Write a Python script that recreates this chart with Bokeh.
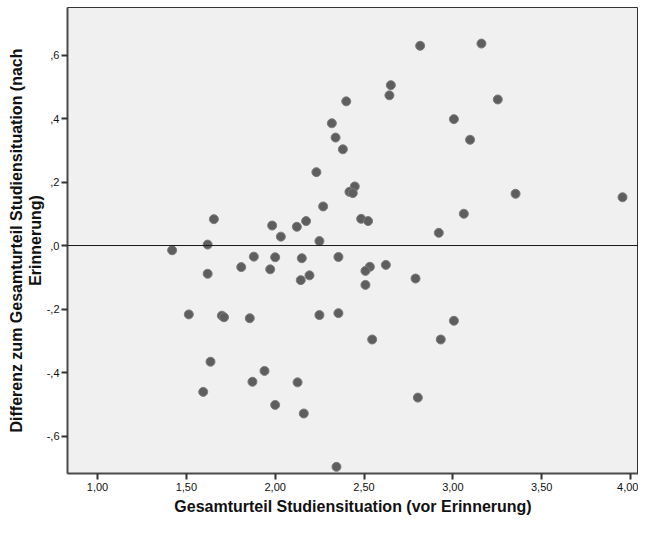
from bokeh.plotting import figure
from bokeh.models import Range1d, FixedTicker, CustomJSTickFormatter, Span, Title, ColumnDataSource
from bokeh.embed import file_html
from bokeh.resources import INLINE

# Gesamturteil Studiensituation (vor Erinnerung)
vor = [1.42, 1.62, 1.655, 1.983, 2.032, 2.122, 2.174, 2.27, 2.232, 2.249,
       1.88, 2.0, 2.15, 1.809, 1.972, 1.62, 2.193, 2.144, 1.514, 1.70,
       1.712, 1.857, 2.249, 1.636, 1.94, 1.872, 2.126, 1.595, 2.0, 2.161,
       2.816, 3.161, 2.651, 2.643, 3.253, 2.40, 2.319, 3.006, 2.34, 3.097,
       2.381, 2.448, 2.418, 2.437, 3.353, 3.955, 2.484, 2.523, 3.062, 2.921,
       2.356, 2.533, 2.508, 2.623, 2.79, 2.508, 2.356, 3.006, 2.546, 2.932,
       2.803, 2.345]
# Differenz zum Gesamturteil Studiensituation (nach Erinnerung)
diff = [-0.015, 0.003, 0.083, 0.063, 0.028, 0.059, 0.077, 0.123, 0.231, 0.014,
        -0.035, -0.037, -0.040, -0.068, -0.075, -0.089, -0.094, -0.109, -0.217, -0.221,
        -0.226, -0.229, -0.219, -0.366, -0.395, -0.429, -0.431, -0.461, -0.502, -0.529,
        0.629, 0.636, 0.505, 0.473, 0.460, 0.454, 0.385, 0.398, 0.340, 0.333,
        0.303, 0.186, 0.169, 0.165, 0.163, 0.152, 0.084, 0.077, 0.100, 0.040,
        -0.036, -0.067, -0.080, -0.061, -0.104, -0.124, -0.213, -0.237, -0.296, -0.296,
        -0.479, -0.697]

x_ticks = [1.0, 1.5, 2.0, 2.5, 3.0, 3.5, 4.0]
y_ticks = [-0.6, -0.4, -0.2, 0.0, 0.2, 0.4, 0.6]

x_title = "Gesamturteil Studiensituation (vor Erinnerung)"
y_title_1 = "Differenz zum Gesamturteil Studiensituation (nach"
y_title_2 = "Erinnerung)"

FONT = "Liberation Sans"

p = figure(width=638, height=518, output_backend="svg", toolbar_location=None,
           x_range=Range1d(0.8311, 4.045), y_range=Range1d(-0.718, 0.7496),
           min_border_left=67, min_border_right=0, min_border_top=7,
           min_border_bottom=45)

p.background_fill_color = "#f0f0f0"
p.border_fill_color = "white"
p.outline_line_color = "#333333"
p.outline_line_width = 1
p.xgrid.visible = False
p.ygrid.visible = False

src = ColumnDataSource(dict(x=vor, y=diff))
p.scatter("x", "y", source=src, size=9, fill_color="#5e5e5e",
          line_color="#7c7c7c", line_width=1)

p.add_layout(Span(location=0, dimension="width", line_color="#1a1a1a", line_width=1))

for ax in (p.xaxis[0], p.yaxis[0]):
    ax.axis_line_color = "#4a4a4a"
    ax.axis_line_width = 2
    ax.major_tick_line_color = "#333333"
    ax.major_tick_line_width = 2
    ax.major_tick_out = 6
    ax.major_tick_in = 0
    ax.minor_tick_line_color = None
    ax.major_label_text_font = FONT
    ax.major_label_text_font_size = "11px"
    ax.major_label_text_color = "#111111"

p.xaxis.ticker = FixedTicker(ticks=x_ticks)
p.yaxis.ticker = FixedTicker(ticks=y_ticks)
p.xaxis.formatter = CustomJSTickFormatter(code="return tick.toFixed(2).replace('.', ',');")
p.yaxis.formatter = CustomJSTickFormatter(
    code="var s = tick.toFixed(1).replace('.', ','); return s.replace(/^(-?)0,/, '$1,');")
p.xaxis.major_label_standoff = 3
p.yaxis.major_label_standoff = 2

p.xaxis.axis_label = x_title
p.xaxis.axis_label_text_font = FONT
p.xaxis.axis_label_text_font_size = "16px"
p.xaxis.axis_label_text_font_style = "bold"
p.xaxis.axis_label_text_color = "#111111"
p.xaxis.axis_label_standoff = 4

for t in (y_title_2, y_title_1):
    p.add_layout(Title(text=t, align="center", text_font=FONT, text_font_size="16px",
                       text_font_style="bold", text_color="#111111", standoff=0,
                       offset=0), "left")

open("out.html", "w").write(file_html(p, INLINE))
